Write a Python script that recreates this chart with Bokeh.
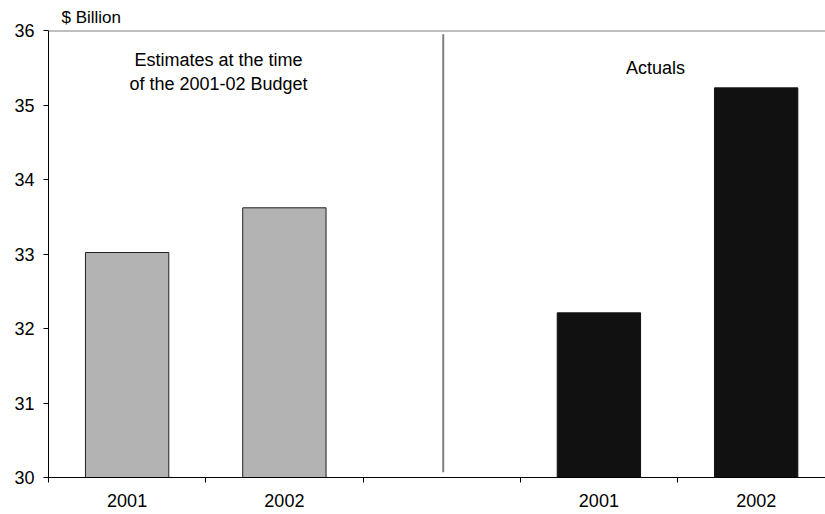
from bokeh.plotting import figure
from bokeh.models import Range1d, FixedTicker, Span, Label
from bokeh.embed import file_html
from bokeh.resources import INLINE

# ---- data ----
slot_labels = ["2001", "2002", "", "2001", "2002"]
est_years = ["2001", "2002"]
est_values = [33.02, 33.62]
act_years = ["2001", "2002"]
act_values = [32.21, 35.23]
y_ticks = [30, 31, 32, 33, 34, 35, 36]
est_title = "Estimates at the time\nof the 2001-02 Budget"
act_title = "Actuals"
unit_label = "$ Billion"

FONT = "Liberation Sans"
FS = "18px"

p = figure(width=825, height=514, output_backend="svg", toolbar_location=None,
           x_range=Range1d(0, 4.941), y_range=Range1d(30, 36),
           min_border_left=48, min_border_right=0, min_border_top=30, min_border_bottom=37)
p.outline_line_color = None
p.xgrid.visible = False
p.ygrid.visible = False
p.background_fill_color = "white"
p.border_fill_color = "white"

p.title.text = unit_label
p.title.align = "left"
p.title.offset = 13
p.title.text_font = FONT
p.title.text_font_size = "17px"
p.title.text_font_style = "normal"
p.title.text_color = "black"
p.title.standoff = 7

# bars
est_x = [slot_labels.index(y) + 0.5 for y in est_years]
act_x = [3 + act_years.index(y) + 0.5 for y in act_years]
p.vbar(x=est_x, top=est_values, bottom=30, width=0.53,
       fill_color="#b3b3b3", line_color="#222222", line_width=1)
p.vbar(x=act_x, top=act_values, bottom=30, width=0.53,
       fill_color="#111111", line_color="#111111", line_width=1)

# top border line at 36
p.add_layout(Span(location=36, dimension="width", line_color="#808080", line_width=2))
# divider
p.segment(x0=[2.51], y0=[30.07], x1=[2.51], y1=[35.95], line_color="#808080", line_width=2)

# x axis
xa = p.xaxis[0]
centers = [i + 0.5 for i, s in enumerate(slot_labels) if s]
xa.ticker = FixedTicker(ticks=centers, minor_ticks=list(range(len(slot_labels) + 1)))
xa.major_label_overrides = {i + 0.5: s for i, s in enumerate(slot_labels) if s}
xa.major_tick_line_color = None
xa.minor_tick_line_color = "black"
xa.minor_tick_out = 5
xa.minor_tick_in = 0
xa.axis_line_color = "black"
xa.axis_line_width = 1
xa.major_label_standoff = 10
xa.major_label_text_font = FONT
xa.major_label_text_font_size = FS
xa.major_label_text_color = "black"

# y axis
ya = p.yaxis[0]
ya.ticker = FixedTicker(ticks=y_ticks, minor_ticks=[])
ya.major_tick_out = 5
ya.major_tick_in = 0
ya.major_tick_line_color = "black"
ya.axis_line_color = "black"
ya.major_label_standoff = 9
ya.major_label_text_font = FONT
ya.major_label_text_font_size = FS
ya.major_label_text_color = "black"

# annotations
p.add_layout(Label(x=1.081, y=35.443, text=est_title, text_align="center",
                   text_baseline="middle", text_font=FONT, text_font_size=FS,
                   text_color="black", text_line_height=1.2))
p.add_layout(Label(x=3.86, y=35.49, text=act_title, text_align="center",
                   text_baseline="middle", text_font=FONT, text_font_size=FS,
                   text_color="black"))

open("out.html", "w").write(file_html(p, INLINE))
